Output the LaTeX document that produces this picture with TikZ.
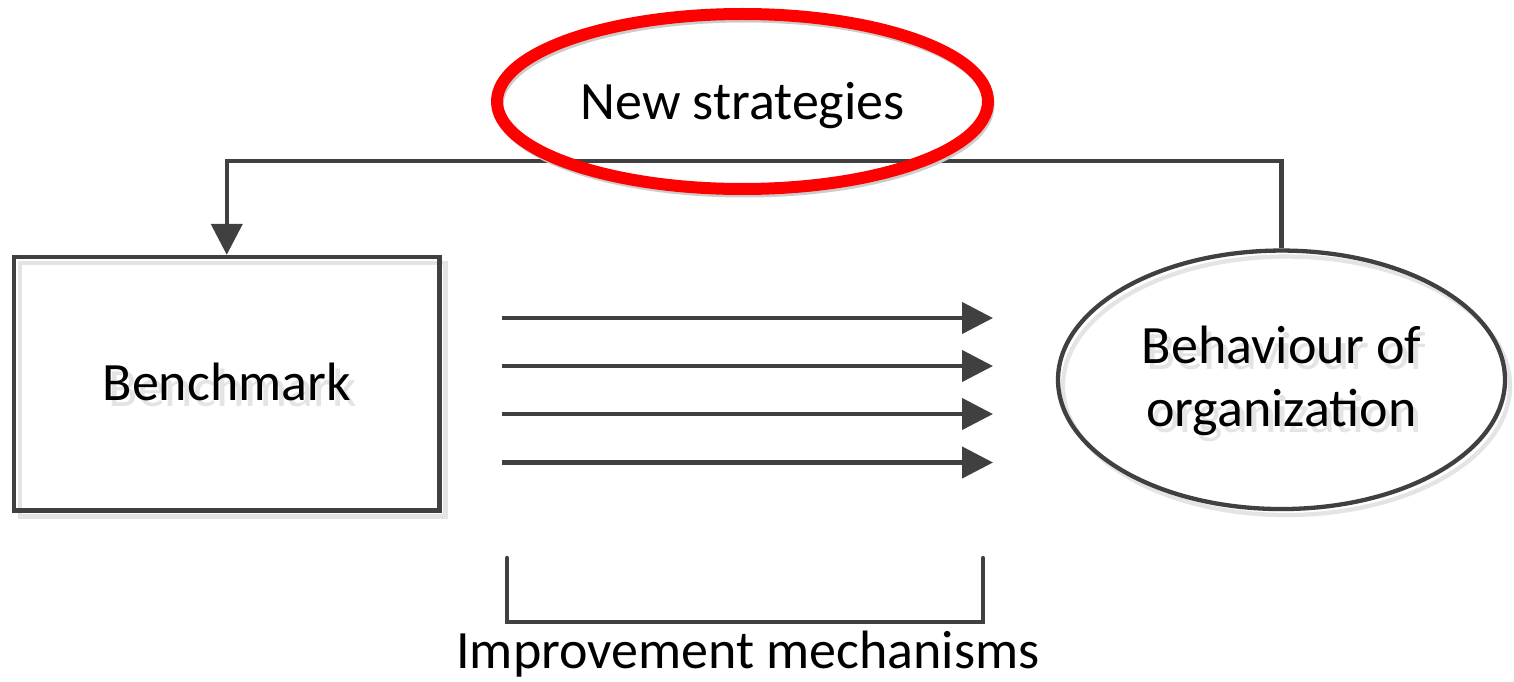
\documentclass[tikz,border=0pt]{standalone}
\usepackage{fontspec}
\setmainfont{Carlito}
\usetikzlibrary{shapes.geometric,arrows.meta}
\definecolor{linegray}{HTML}{404040}
\definecolor{shadowgray}{HTML}{E4E4E4}
\definecolor{ringred}{HTML}{FF0000}
\begin{document}
\begin{tikzpicture}[x=1pt,y=-1pt,
  lbl/.style={font=\fontsize{54}{63.5}\selectfont, text=black},
  shdtext/.style={font=\fontsize{54}{63.5}\selectfont, text=shadowgray},
  conn/.style={draw=linegray, line width=4.3pt},
  shd/.style={draw=shadowgray, line width=4.3pt},
  tipstyle/.style={-{Triangle[length=31pt,width=31pt]}},
  boxshape/.style={rectangle, minimum width=425.5pt, minimum height=253.5pt, inner sep=0pt, text height=32.5pt, text depth=0pt},
  behshape/.style={ellipse, minimum width=447pt, minimum height=258.5pt, inner sep=0pt, align=center, text height=94pt, text depth=0pt},
  redshape/.style={ellipse, minimum width=491pt, minimum height=175pt, inner sep=0pt, text height=37pt, text depth=0pt},
]
\useasboundingbox (0,0) rectangle (1514,682);
\fill[white] (0,0) rectangle (1514,682);

% Benchmark box with its shadow
\node[shd, shdtext, boxshape] (boxshadow) at (232.75,389.75) {Benchmark};
\node[conn, lbl, boxshape] (box) at (226.75,383.75) {Benchmark};

% Behaviour ellipse with its shadow
\node[shd, shdtext, behshape] (behshadow) at (1286.5,385.8) {Behaviour of\\organization};
\node[conn, lbl, behshape] (beh) at (1281.5,379.8) {Behaviour of\\organization};

% feedback connector
\coordinate (turn) at (226.75,161);
\draw[conn, tipstyle] (beh.north) |- (turn) -- (box.north);

% improvement arrows
\foreach \i/\y in {1/318,2/366,3/414,4/462.5} {
  \coordinate (s\i) at (502,\y);
  \coordinate (e\i) at (993,\y);
  \draw[conn, tipstyle] (s\i) -- (e\i);
}

% bracket
\coordinate (bt1) at (507,558);
\coordinate (bb1) at (507,622);
\coordinate (bb2) at (983,622);
\coordinate (bt2) at (983,558);
\draw[conn, line cap=round] (bt1) -- (bb1) -- (bb2) -- (bt2);
\node[lbl, anchor=base, inner sep=0pt] (impr) at (748,668) {Improvement mechanisms};

% New strategies red ellipse
\node[draw=black!20, line width=9pt, redshape] (redshadow) at (744.5,105.5) {};
\node[draw=ringred, line width=12pt, lbl, redshape] (newstrat) at (742.5,101.5) {New strategies};
\end{tikzpicture}
\end{document}
